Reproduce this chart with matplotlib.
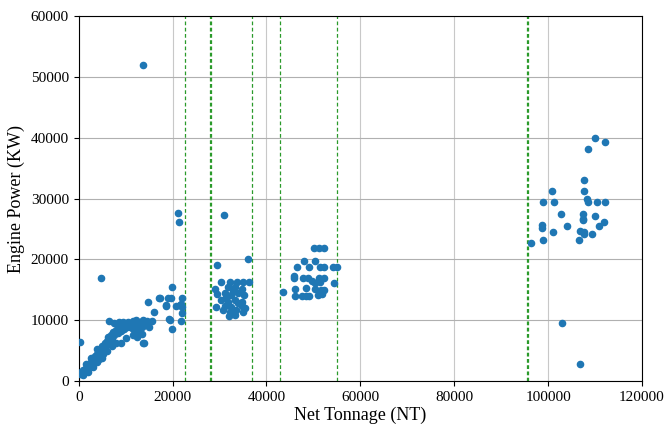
import matplotlib.pyplot as plt

plt.rcParams['font.family'] = ['Liberation Serif', 'DejaVu Serif']

# net tonnage (NT) and engine power (KW) of each ship
small_nt = [0.2, 0.3, 0.5, 0.8, 1.0, 1.0, 1.2, 1.5, 1.7, 2.0, 2.0, 2.2, 2.5, 2.7, 3.0,
            3.0, 3.2, 3.4, 3.6, 3.8, 4.0, 4.0, 4.3, 4.5, 4.8, 5.0, 5.0, 5.2, 5.5, 5.7,
            6.0, 6.0, 6.3, 6.5, 6.8, 7.0, 7.0, 7.3, 7.6, 8.0, 8.0, 8.3, 8.6, 9.0, 9.0,
            9.3, 9.6, 10.0, 10.0, 10.3, 10.6, 11.0, 11.3, 11.5, 11.6, 12.0, 12.3, 12.5,
            12.6, 13.0, 13.4, 13.5, 13.8, 14.2, 14.6, 15.0, 14.0, 6.5, 7.5, 8.5, 9.5,
            10.5, 11.5, 12.2, 4.8, 13.8, 5.2, 2.6, 3.8, 4.4, 1.6]
small_kw = [6.4, 1.2, 1.5, 1.3, 1.8, 1.0, 1.6, 2.2, 2.0, 2.6, 1.5, 2.3, 3.0, 2.8, 3.5,
            2.3, 3.2, 4.1, 3.8, 4.5, 4.2, 3.2, 5.0, 4.6, 5.3, 5.8, 3.8, 5.0, 6.2, 5.6,
            6.6, 5.0, 7.2, 6.4, 7.5, 7.0, 5.8, 8.0, 7.6, 8.4, 6.2, 7.9, 8.8, 8.2, 6.2,
            9.0, 8.6, 9.2, 7.1, 8.8, 9.6, 8.9, 9.4, 7.6, 8.5, 9.6, 9.0, 7.2, 8.2, 9.7,
            8.8, 7.8, 10.0, 9.2, 9.8, 8.9, 6.2, 9.8, 9.6, 9.7, 9.7, 9.7, 9.9, 10.1,
            17.0, 52.0, 4.5, 3.8, 5.2, 3.6, 2.8]

g1_nt = [14.7, 17.0, 19.0, 19.7, 18.5, 21.5, 16.0, 22.0, 19.4, 21.7, 19.9, 15.7, 13.7,
         21.2, 21.3, 19.8, 17.3, 22.1, 18.6, 20.8, 21.7, 22.1, 19.3]
g1_kw = [13.0, 13.6, 13.6, 13.6, 12.5, 12.5, 11.4, 11.1, 10.1, 9.8, 8.5, 9.9, 6.2,
         27.6, 26.1, 15.4, 13.6, 13.6, 12.4, 12.3, 12.7, 12.2, 10.2]

g2_nt = [31.0, 36.1, 29.5, 30.4, 32.2, 33.7, 35.0, 36.3, 29.0, 31.8, 33.2, 34.7, 29.5,
         31.1, 32.5, 33.9, 35.2, 30.4, 31.8, 33.2, 34.7, 29.2, 31.1, 32.5, 34.7, 35.4,
         30.7, 32.2, 33.5, 35.0, 32.0, 33.2, 31.4, 34.0, 32.8]
g2_kw = [27.3, 20.0, 19.0, 16.2, 16.2, 16.2, 16.2, 16.2, 15.1, 15.4, 15.4, 15.1, 14.3,
         14.4, 14.1, 14.4, 14.1, 13.3, 13.0, 13.3, 13.0, 12.2, 12.3, 12.1, 12.3, 12.0,
         11.6, 11.4, 11.6, 11.4, 10.7, 10.9, 13.8, 12.8, 14.8]

g3_nt = [50.1, 51.2, 52.2, 47.9, 50.4, 46.6, 49.0, 51.5, 52.2, 54.1, 45.8, 45.8, 47.8,
         48.9, 49.6, 51.1, 52.2, 50.3, 51.3, 54.3, 43.6, 46.0, 48.5, 50.3, 51.7, 46.0,
         47.5, 48.5, 49.1, 50.9, 51.9, 52.2, 55.0]
g3_kw = [21.9, 21.9, 21.9, 19.7, 19.7, 18.8, 18.8, 18.8, 18.8, 18.8, 17.3, 16.9, 17.0,
         17.0, 16.5, 17.0, 17.0, 16.1, 16.2, 16.1, 14.7, 15.2, 15.3, 15.2, 15.0, 14.0,
         14.0, 14.0, 14.0, 14.1, 14.3, 14.9, 18.8]

g4_nt = [110.0, 112.1, 108.5, 107.7, 100.9, 107.7, 99.0, 101.3, 108.2, 108.5, 110.5,
         112.1, 102.8, 107.5, 107.5, 107.5, 110.0, 98.7, 98.8, 104.1, 111.9, 110.8,
         101.0, 106.8, 107.6, 107.6, 109.3, 106.5, 99.0, 96.3, 103.0, 106.7]
g4_kw = [40.0, 39.3, 38.1, 33.0, 31.2, 31.2, 29.4, 29.4, 30.0, 29.4, 29.4, 29.4,
         27.5, 27.4, 26.7, 26.4, 27.2, 25.6, 25.2, 25.4, 26.1, 25.4, 24.5, 24.7,
         24.5, 24.1, 24.2, 23.1, 23.1, 22.7, 9.5, 2.85]

# class boundaries on net tonnage
bounds = [22700, 27950, 28150, 37000, 42900, 55050, 95550, 95700]

nt = [v * 1000 for v in small_nt + g1_nt + g2_nt + g3_nt + g4_nt]
kw = [v * 1000 for v in small_kw + g1_kw + g2_kw + g3_kw + g4_kw]

fig = plt.figure(figsize=(6.67, 4.26), dpi=100)
ax = fig.add_axes([0.118, 0.1056, 0.8445, 0.8568])
ax.grid(True, axis='y', color='#b0b0b0', lw=0.8, zorder=0)
ax.grid(True, axis='x', color='#c8c8c8', lw=0.8, zorder=0)
ax.set_axisbelow(True)
for b in bounds:
    ax.axvline(b, color='#2a9a2a', ls='--', lw=0.9, dashes=(3, 2), zorder=1)
ax.scatter(nt, kw, s=20, color='#1f77b4', zorder=3)

ax.set_xlim(0, 120000)
ax.set_ylim(0, 60000)
ax.set_xticks(range(0, 120001, 20000))
ax.set_yticks(range(0, 60001, 10000))
ax.tick_params(labelsize=11)
ax.set_xlabel('Net Tonnage (NT)', fontsize=13, labelpad=2)
ax.set_ylabel('Engine Power (KW)', fontsize=13, labelpad=4)

fig.savefig('out.png', dpi=100)
